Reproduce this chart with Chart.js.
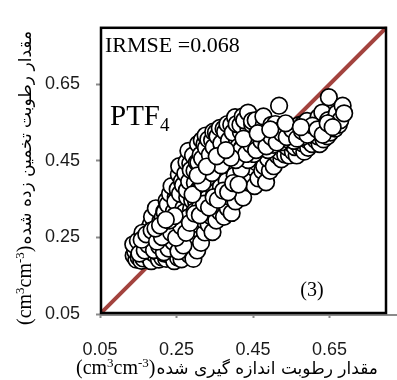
<!DOCTYPE html>
<html>
<head>
<meta charset="utf-8">
<script src="https://cdn.jsdelivr.net/npm/chart.js@4.4.0/dist/chart.umd.min.js"></script>
<style>
  html, body { margin: 0; padding: 0; background: #fff; }
</style>
</head>
<body>
<canvas id="myChart" width="397" height="380"></canvas>
<script>
var measured = [
  0.138, 0.145, 0.142, 0.151, 0.156, 0.137, 0.149, 0.158,
  0.163, 0.158, 0.166, 0.172, 0.169, 0.174, 0.177, 0.184, 0.181, 0.186, 0.179, 0.183, 0.161,
  0.193, 0.188, 0.197, 0.192, 0.186, 0.204, 0.198, 0.206, 0.201, 0.208, 0.196, 0.213, 0.209, 0.216, 0.211, 0.214, 0.218,
  0.223, 0.218, 0.226, 0.221, 0.228, 0.219, 0.224, 0.234, 0.229, 0.236, 0.231, 0.238, 0.227, 0.233, 0.244, 0.241, 0.239, 0.246, 0.243, 0.248, 0.237,
  0.254, 0.249, 0.256, 0.251, 0.258, 0.247, 0.253, 0.256, 0.263, 0.258, 0.266, 0.261, 0.268, 0.259, 0.264, 0.257, 0.274, 0.269, 0.276, 0.271, 0.278, 0.267, 0.273, 0.276,
  0.284, 0.279, 0.286, 0.281, 0.288, 0.277, 0.283, 0.286, 0.281, 0.294, 0.289, 0.296, 0.291, 0.298, 0.287, 0.293, 0.304, 0.299, 0.306, 0.301, 0.308, 0.297, 0.303, 0.306,
  0.314, 0.309, 0.316, 0.311, 0.318, 0.307, 0.313, 0.316, 0.324, 0.319, 0.326, 0.321, 0.328, 0.317, 0.323, 0.326, 0.334, 0.329, 0.336, 0.331, 0.338, 0.327, 0.333,
  0.344, 0.339, 0.346, 0.341, 0.348, 0.337, 0.343, 0.346, 0.354, 0.349, 0.356, 0.351, 0.358, 0.347, 0.353, 0.364, 0.359, 0.366, 0.361, 0.368, 0.357, 0.363,
  0.374, 0.369, 0.376, 0.371, 0.378, 0.367, 0.373, 0.384, 0.379, 0.386, 0.381, 0.388, 0.377, 0.383, 0.394, 0.389, 0.396, 0.391, 0.398, 0.387, 0.393,
  0.404, 0.399, 0.406, 0.401, 0.408, 0.397, 0.403, 0.414, 0.409, 0.416, 0.411, 0.418, 0.407, 0.424, 0.419, 0.426, 0.421, 0.428, 0.417, 0.423,
  0.434, 0.429, 0.436, 0.431, 0.438, 0.427, 0.444, 0.439, 0.446, 0.441, 0.448, 0.437, 0.454, 0.449, 0.456, 0.451, 0.458, 0.447,
  0.464, 0.459, 0.466, 0.461, 0.468, 0.457, 0.474, 0.469, 0.476, 0.471, 0.478, 0.484, 0.479, 0.486, 0.481, 0.488, 0.477,
  0.494, 0.489, 0.496, 0.491, 0.498, 0.504, 0.499, 0.506, 0.501, 0.508, 0.514, 0.509, 0.516, 0.511, 0.518,
  0.524, 0.519, 0.526, 0.521, 0.528, 0.534, 0.529, 0.536, 0.531, 0.538, 0.544, 0.539, 0.546, 0.541,
  0.554, 0.549, 0.556, 0.551, 0.564, 0.559, 0.566, 0.561, 0.568, 0.574, 0.569, 0.576, 0.571,
  0.584, 0.579, 0.586, 0.581, 0.594, 0.589, 0.596, 0.591, 0.604, 0.599, 0.606,
  0.614, 0.609, 0.616, 0.624, 0.619, 0.626, 0.621, 0.634, 0.629, 0.636, 0.631,
  0.644, 0.639, 0.646, 0.652, 0.657, 0.648, 0.664, 0.659, 0.674, 0.669, 0.684, 0.678, 0.688,
  0.172, 0.188, 0.203, 0.215, 0.226, 0.238, 0.252, 0.262, 0.281, 0.297, 0.312, 0.331, 0.349, 0.366, 0.381,
  0.402, 0.419, 0.437, 0.452, 0.471, 0.489, 0.503, 0.522, 0.541, 0.557, 0.578, 0.596, 0.612, 0.628, 0.646,
  0.153, 0.167, 0.176, 0.191, 0.205, 0.217, 0.229, 0.242, 0.255, 0.268, 0.159, 0.171, 0.185, 0.199, 0.212,
  0.224, 0.236, 0.249, 0.262, 0.275, 0.195, 0.207, 0.231, 0.245, 0.222,
  0.405, 0.418, 0.432, 0.445, 0.458, 0.472, 0.485, 0.498, 0.512, 0.525, 0.538, 0.552, 0.565, 0.578, 0.592,
  0.605, 0.618, 0.632, 0.645, 0.658, 0.425, 0.462, 0.495, 0.535, 0.575,
  0.285, 0.298, 0.311, 0.322, 0.335, 0.347, 0.358, 0.372, 0.385, 0.398, 0.412, 0.292, 0.318, 0.343, 0.367,
  0.392, 0.305, 0.329, 0.355, 0.379
];
var estimated = [
  0.203, 0.192, 0.214, 0.198, 0.226, 0.232, 0.241, 0.189,
  0.195, 0.212, 0.227, 0.204, 0.219, 0.246, 0.272, 0.188, 0.213, 0.238, 0.257, 0.284, 0.262,
  0.206, 0.224, 0.246, 0.283, 0.304, 0.192, 0.213, 0.236, 0.258, 0.292, 0.326, 0.197, 0.228, 0.244, 0.266, 0.302, 0.318,
  0.194, 0.208, 0.236, 0.263, 0.277, 0.316, 0.346, 0.203, 0.228, 0.254, 0.268, 0.297, 0.336, 0.364, 0.188, 0.223, 0.257, 0.293, 0.318, 0.356, 0.384,
  0.197, 0.226, 0.254, 0.284, 0.306, 0.344, 0.376, 0.414, 0.193, 0.224, 0.266, 0.303, 0.327, 0.364, 0.397, 0.436, 0.214, 0.236, 0.284, 0.316, 0.354, 0.386, 0.417, 0.447,
  0.204, 0.233, 0.256, 0.294, 0.324, 0.373, 0.396, 0.443, 0.476, 0.194, 0.246, 0.314, 0.347, 0.393, 0.426, 0.464, 0.216, 0.274, 0.296, 0.344, 0.376, 0.424, 0.446, 0.494,
  0.236, 0.284, 0.326, 0.374, 0.397, 0.446, 0.466, 0.504, 0.263, 0.296, 0.354, 0.386, 0.424, 0.456, 0.494, 0.516, 0.284, 0.326, 0.373, 0.414, 0.446, 0.484, 0.506,
  0.264, 0.306, 0.364, 0.396, 0.443, 0.466, 0.504, 0.526, 0.294, 0.336, 0.394, 0.416, 0.463, 0.486, 0.524, 0.316, 0.374, 0.406, 0.454, 0.476, 0.514, 0.536,
  0.304, 0.344, 0.403, 0.426, 0.474, 0.496, 0.534, 0.326, 0.384, 0.414, 0.466, 0.484, 0.526, 0.546, 0.314, 0.356, 0.414, 0.446, 0.484, 0.504, 0.544,
  0.344, 0.386, 0.434, 0.466, 0.504, 0.524, 0.564, 0.374, 0.416, 0.464, 0.486, 0.526, 0.546, 0.354, 0.404, 0.436, 0.484, 0.506, 0.544, 0.566,
  0.394, 0.426, 0.474, 0.496, 0.534, 0.556, 0.414, 0.446, 0.484, 0.506, 0.544, 0.576, 0.384, 0.434, 0.466, 0.504, 0.516, 0.554,
  0.404, 0.446, 0.484, 0.496, 0.534, 0.556, 0.424, 0.466, 0.494, 0.506, 0.544, 0.394, 0.436, 0.484, 0.496, 0.524, 0.566,
  0.424, 0.456, 0.494, 0.506, 0.544, 0.436, 0.484, 0.496, 0.524, 0.546, 0.464, 0.486, 0.516, 0.526, 0.594,
  0.454, 0.474, 0.504, 0.516, 0.534, 0.466, 0.494, 0.506, 0.534, 0.528, 0.464, 0.486, 0.514, 0.536,
  0.474, 0.496, 0.524, 0.532, 0.464, 0.486, 0.514, 0.526, 0.536, 0.484, 0.504, 0.516, 0.544,
  0.474, 0.496, 0.524, 0.546, 0.484, 0.506, 0.534, 0.554, 0.494, 0.516, 0.536,
  0.504, 0.516, 0.546, 0.494, 0.514, 0.526, 0.564, 0.506, 0.524, 0.554, 0.576,
  0.514, 0.526, 0.556, 0.524, 0.544, 0.616, 0.534, 0.554, 0.544, 0.574, 0.594, 0.556, 0.574,
  0.232, 0.247, 0.241, 0.262, 0.249, 0.274, 0.268, 0.291, 0.302, 0.318, 0.331, 0.352, 0.366, 0.382, 0.397,
  0.412, 0.428, 0.452, 0.468, 0.482, 0.478, 0.492, 0.498, 0.506, 0.502, 0.512, 0.522, 0.528, 0.536, 0.542,
  0.208, 0.216, 0.231, 0.217, 0.227, 0.211, 0.221, 0.238, 0.214, 0.229, 0.244, 0.258, 0.268, 0.239, 0.251,
  0.282, 0.262, 0.249, 0.279, 0.262, 0.273, 0.281, 0.294, 0.306, 0.296,
  0.452, 0.478, 0.468, 0.492, 0.478, 0.502, 0.488, 0.512, 0.498, 0.522, 0.512, 0.532, 0.508, 0.528, 0.518,
  0.542, 0.532, 0.518, 0.548, 0.538, 0.508, 0.522, 0.532, 0.548, 0.538,
  0.288, 0.312, 0.308, 0.338, 0.328, 0.355, 0.348, 0.372, 0.368, 0.392, 0.388, 0.362, 0.392, 0.418, 0.438,
  0.458, 0.412, 0.435, 0.462, 0.478
];
/* ligne 1:1 */
var lineX = [0.05, 0.8];
var lineY = [0.05, 0.8];
/* graduations */
var xTicks = [0.05, 0.25, 0.45, 0.65];
var yTicks = [0.05, 0.25, 0.45, 0.65];
var axisMin = 0.05, axisMax = 0.8;

var yTitle = 'مقدار رطوبت تخمین زده شده';
var xTitle = 'مقدار رطوبت اندازه گیری شده';
var rmseText = 'IRMSE =0.068';
var panelText = '(3)';

var points = measured.map(function(v, i){ return {x: v, y: estimated[i]}; });
var linePts = lineX.map(function(v, i){ return {x: v, y: lineY[i]}; });

/* unite (cm3cm-3) avec exposants */
function drawUnit(ctx, x, y){
  var parts = [['(cm', 20, 0], ['3', 13, -7], ['cm', 20, 0], ['-3', 13, -7], [')', 20, 0]];
  ctx.textAlign = 'left';
  parts.forEach(function(p){
    ctx.font = p[1] + 'px "Liberation Serif"';
    ctx.fillText(p[0], x, y + p[2]);
    x += ctx.measureText(p[0]).width;
  });
  return x;
}

var decorPlugin = {
  id: 'decor',
  afterDraw: function(chart){
    var ctx = chart.ctx, ca = chart.chartArea;
    ctx.save();
    // axe x gris
    ctx.strokeStyle = '#8a8a8a';
    ctx.lineWidth = 2;
    ctx.beginPath();
    ctx.moveTo(ca.left, ca.bottom + 1);
    ctx.lineTo(397, ca.bottom + 1);
    ctx.stroke();
    // cadre noir
    ctx.strokeStyle = '#000';
    ctx.lineWidth = 2.5;
    ctx.strokeRect(ca.left + 1, ca.top + 1, ca.right - ca.left - 2, ca.bottom - ca.top - 2);

    ctx.fillStyle = '#000';
    ctx.textBaseline = 'alphabetic';
    // textes internes
    ctx.textAlign = 'left';
    ctx.font = '22px "Liberation Serif"';
    ctx.fillText(rmseText, ca.left + 5, 52);
    ctx.font = '29px "Liberation Serif"';
    ctx.fillText('PTF', ca.left + 10, 125);
    var w = ctx.measureText('PTF').width;
    ctx.font = '19px "Liberation Serif"';
    ctx.fillText('4', ca.left + 10 + w, 131);
    ctx.textAlign = 'center';
    ctx.font = '20px "Liberation Serif"';
    ctx.fillText(panelText, 312, 296);

    // titre axe x
    var ex = drawUnit(ctx, 76, 374);
    ctx.font = '17px "DejaVu Sans"';
    ctx.textAlign = 'left';
    ctx.fillText(xTitle, ex + 1, 374);

    // titre axe y (tourne)
    ctx.translate(31, 325);
    ctx.rotate(-Math.PI / 2);
    var ey = drawUnit(ctx, 0, 0);
    ctx.font = '17px "DejaVu Sans"';
    ctx.textAlign = 'left';
    ctx.fillText(yTitle, ey + 1, 0);
    ctx.restore();
  }
};

var ctx_1 = document.getElementById('myChart').getContext('2d');
var chart = new Chart(ctx_1, {
  type: 'scatter',
  data: {
    datasets: [{
      type: 'scatter',
      data: points,
      pointRadius: 8.3,
      pointBorderWidth: 1.7,
      pointBackgroundColor: '#fff',
      pointBorderColor: '#000',
      order: 0
    }, {
      type: 'line',
      data: linePts,
      borderColor: '#A3433E',
      borderWidth: 4,
      pointRadius: 0,
      fill: false,
      order: 1
    }]
  },
  options: {
    responsive: false,
    animation: false,
    layout: { padding: { top: 15, right: 1, left: 0, bottom: 0 } },
    plugins: { legend: { display: false }, tooltip: { enabled: false } },
    scales: {
      x: {
        type: 'linear', min: axisMin, max: axisMax,
        afterFit: function(s){ s.height = 66; },
        afterBuildTicks: function(s){ s.ticks = xTicks.map(function(v){ return {value: v}; }); },
        grid: { drawOnChartArea: false, drawTicks: true, tickLength: 4, tickColor: '#8a8a8a', tickWidth: 2 },
        border: { display: false },
        ticks: {
          padding: 21, color: '#1a1a1a', maxRotation: 0,
          font: { family: 'Liberation Sans', size: 18 },
          callback: function(v){ return v.toFixed(2); }
        }
      },
      y: {
        type: 'linear', min: axisMin, max: axisMax,
        afterFit: function(s){ s.width = 100; },
        afterBuildTicks: function(s){ s.ticks = yTicks.map(function(v){ return {value: v}; }); },
        grid: { drawOnChartArea: false, drawTicks: true, tickLength: 4, tickColor: '#8a8a8a', tickWidth: 2 },
        border: { display: false },
        ticks: {
          padding: 16, color: '#1a1a1a',
          font: { family: 'Liberation Sans', size: 18 },
          callback: function(v){ return v.toFixed(2); }
        }
      }
    }
  },
  plugins: [decorPlugin]
});
</script>
</body>
</html>
